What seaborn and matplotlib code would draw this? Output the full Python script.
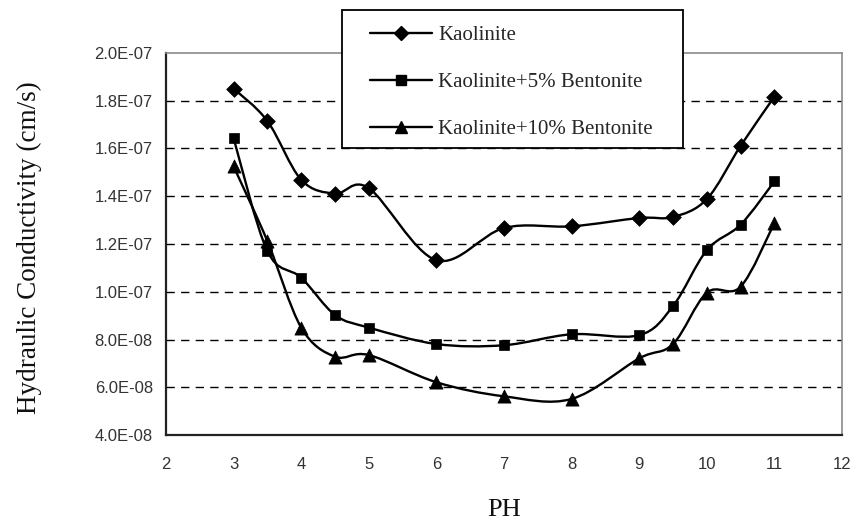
import numpy as np
import pandas as pd
import matplotlib
matplotlib.use("Agg")
import matplotlib.pyplot as plt
from matplotlib.path import Path
from matplotlib.patches import PathPatch, Rectangle
from matplotlib.lines import Line2D
from matplotlib.ticker import FuncFormatter, MultipleLocator
import seaborn as sns

# pH values and measured hydraulic conductivity (cm/s)
ph = [3, 3.5, 4, 4.5, 5, 6, 7, 8, 9, 9.5, 10, 10.5, 11]
kaolinite = [1.851e-7, 1.715e-7, 1.469e-7, 1.411e-7, 1.434e-7, 1.132e-7, 1.267e-7,
             1.274e-7, 1.309e-7, 1.313e-7, 1.388e-7, 1.611e-7, 1.817e-7]
bentonite_5 = [1.643e-7, 1.170e-7, 1.059e-7, 9.03e-8, 8.50e-8, 7.81e-8, 7.76e-8,
               8.22e-8, 8.18e-8, 9.40e-8, 1.174e-7, 1.281e-7, 1.462e-7]
bentonite_10 = [1.525e-7, 1.212e-7, 8.50e-8, 7.28e-8, 7.35e-8, 6.21e-8, 5.62e-8,
                5.51e-8, 7.21e-8, 7.81e-8, 9.96e-8, 1.021e-7, 1.288e-7]

series_names = ["Kaolinite", "Kaolinite+5% Bentonite", "Kaolinite+10% Bentonite"]
series_values = [kaolinite, bentonite_5, bentonite_10]
markers = {"Kaolinite": "D", "Kaolinite+5% Bentonite": "s", "Kaolinite+10% Bentonite": "^"}
marker_sizes = {"Kaolinite": 8, "Kaolinite+5% Bentonite": 7.8, "Kaolinite+10% Bentonite": 9.5}

df = pd.DataFrame({
    "pH": ph * len(series_names),
    "K": [v for vals in series_values for v in vals],
    "Soil": [n for n in series_names for _ in ph],
})

sns.set_style("white")
serif = ["Liberation Serif", "DejaVu Serif"]
sans = ["Liberation Sans", "DejaVu Sans"]

fig = plt.figure(figsize=(8.51, 5.23), dpi=100)
ax = fig.add_axes([166 / 851, 1 - 435 / 523, (842 - 166) / 851, (435 - 53) / 523])


def smooth_path(x, y, tension=1 / 6):
    """Cubic Bezier path through the points (Catmull-Rom style smoothing)."""
    x = np.asarray(x, float)
    y = np.asarray(y, float)
    pts = np.column_stack([x, y])
    n = len(pts)
    verts = [pts[0]]
    codes = [Path.MOVETO]
    for i in range(n - 1):
        p0 = pts[i - 1] if i > 0 else pts[i]
        p1 = pts[i]
        p2 = pts[i + 1]
        p3 = pts[i + 2] if i + 2 < n else pts[i + 1]
        c1 = p1 + (p2 - p0) * tension
        c2 = p2 - (p3 - p1) * tension
        verts += [c1, c2, p2]
        codes += [Path.CURVE4] * 3
    return Path(verts, codes)


for name in series_names:
    sub = df[df["Soil"] == name]
    ax.add_patch(PathPatch(smooth_path(sub["pH"], sub["K"]), facecolor="none",
                           edgecolor="black", lw=1.7, zorder=3))
    sns.scatterplot(data=sub, x="pH", y="K", marker=markers[name], color="black",
                    s=marker_sizes[name] ** 2, edgecolor="black", linewidth=0.5,
                    ax=ax, zorder=4, legend=False)

ax.set_xlim(2, 12)
ax.set_ylim(4e-8, 2e-7)
ax.xaxis.set_major_locator(MultipleLocator(1))
ax.yaxis.set_major_locator(MultipleLocator(2e-8))
ax.yaxis.set_major_formatter(FuncFormatter(lambda v, _: f"{v:.1E}"))

# dashed horizontal gridlines
for yv in np.arange(6e-8, 1.9e-7, 2e-8):
    ax.axhline(yv, color="black", lw=1.0, ls=(0, (6, 4.5)), zorder=1)

for side in ("left", "bottom"):
    ax.spines[side].set_color("#222222")
    ax.spines[side].set_linewidth(1.6)
for side in ("right", "top"):
    ax.spines[side].set_visible(True)
    ax.spines[side].set_color("#8a8a8a")
    ax.spines[side].set_linewidth(1.2)

ax.tick_params(axis="both", direction="inout", length=7, width=1.2, color="#222222",
               labelsize=12, pad=6)
ax.tick_params(axis="x", pad=12)
for lab in ax.get_xticklabels() + ax.get_yticklabels():
    lab.set_family(sans)
    lab.set_color("#333333")

ax.set_xlabel("PH", family=serif, fontsize=19, labelpad=20, color="#111111")
ax.set_ylabel("Hydraulic Conductivity (cm/s)", family=serif, fontsize=19.5, color="#111111")
ax.yaxis.set_label_coords(-0.183, 0.49)

# legend box sitting above the plot's top edge
box = Rectangle((342 / 851, 1 - 148 / 523), (683 - 342) / 851, (148 - 10) / 523,
                transform=fig.transFigure, facecolor="white", edgecolor="black",
                lw=1.3, zorder=4)
fig.patches.append(box)

handles = [Line2D([0], [0], color="black", lw=1.7, marker=markers[n],
                  markersize=marker_sizes[n] * 0.95, markeredgecolor="black")
           for n in series_names]
leg = fig.legend(handles, series_names, loc="upper left",
                 bbox_to_anchor=(355 / 851, 1 - 11 / 523), frameon=False,
                 prop={"family": serif, "size": 15}, handlelength=3.0,
                 handletextpad=0.3, labelspacing=1.32, borderpad=0.2)
leg.set_zorder(5)

fig.savefig("out.png", dpi=100, facecolor="white")
